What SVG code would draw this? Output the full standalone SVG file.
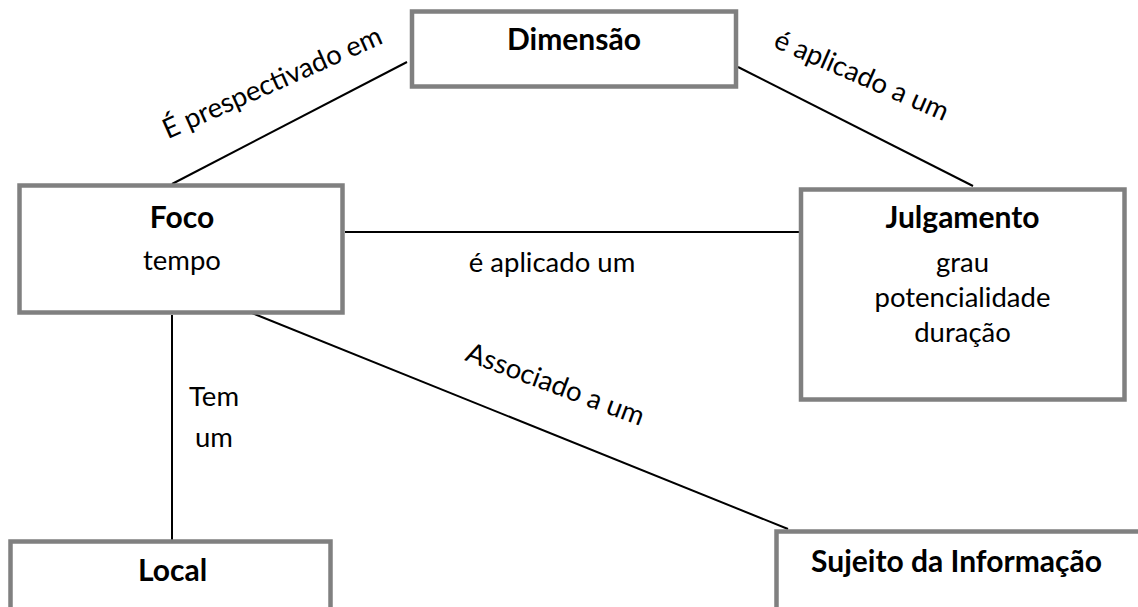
<svg xmlns="http://www.w3.org/2000/svg" width="1138" height="607" viewBox="0 0 1138 607">
<style>
.box{fill:#fff;stroke:#808080;stroke-width:4.5}
.ln{stroke:#000;stroke-width:2;fill:none}
text{font-family:Lato,"Liberation Sans",sans-serif;font-size:27.5px;fill:#000}
.b{font-weight:bold;font-size:30px}
.c{text-anchor:middle}
</style>
<rect width="1138" height="607" fill="#fff"/>
<g id="connectors">
<line class="ln" x1="407" y1="62" x2="172" y2="184"/>
<line class="ln" x1="738" y1="67" x2="973" y2="186"/>
<line class="ln" x1="345" y1="232" x2="803" y2="232"/>
<line class="ln" x1="172" y1="315" x2="172" y2="540"/>
<line class="ln" x1="252" y1="313" x2="788" y2="529"/>
<text class="c" transform="translate(276,91) rotate(-24)">É prespectivado em</text>
<text class="c" transform="translate(858,84) rotate(23.5)">é aplicado a um</text>
<text class="c" x="552" y="272">é aplicado um</text>
<text class="c" x="214" y="406">Tem</text>
<text class="c" x="214" y="447">um</text>
<text class="c" transform="translate(552,393) rotate(20.5)">Associado a um</text>
</g>
<g id="dimensao">
<rect class="box" x="412" y="11.5" width="324" height="75"/>
<text class="b c" x="574" y="50">Dimensão</text>
</g>
<g id="foco">
<rect class="box" x="19.5" y="185.5" width="323" height="127"/>
<text class="b c" x="182" y="228">Foco</text>
<text class="c" x="182" y="270">tempo</text>
</g>
<g id="julgamento">
<rect class="box" x="801" y="189.5" width="323.5" height="210"/>
<text class="b c" x="962.5" y="228">Julgamento</text>
<text class="c" x="962.5" y="272">grau</text>
<text class="c" x="962.5" y="307">potencialidade</text>
<text class="c" x="962.5" y="342">duração</text>
</g>
<g id="local">
<rect class="box" x="10.5" y="541.5" width="320" height="90"/>
<text class="b c" x="172.5" y="581">Local</text>
</g>
<g id="sujeito">
<rect class="box" x="776.5" y="531.5" width="400" height="100"/>
<text class="b c" x="956.5" y="572">Sujeito da Informação</text>
</g>
</svg>
